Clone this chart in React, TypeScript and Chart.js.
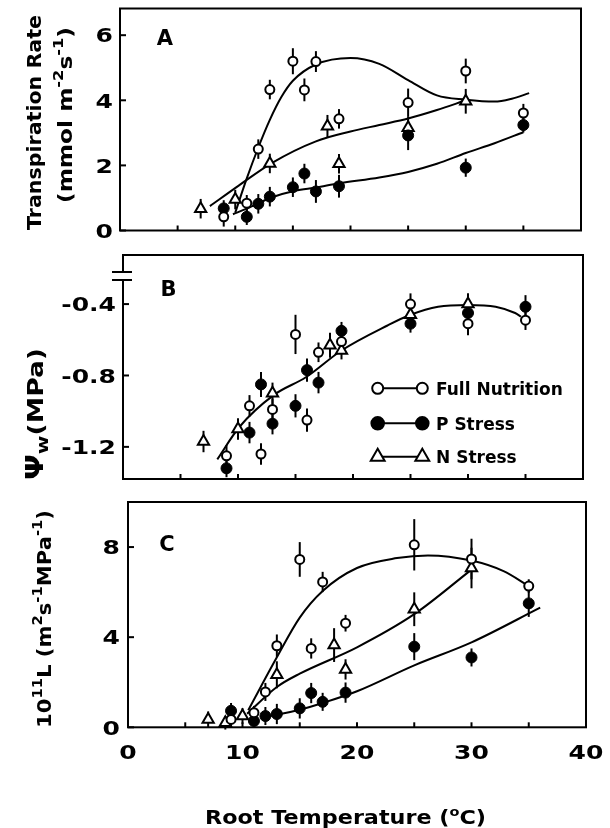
import React, { useEffect, useRef } from "react";
import { Chart, registerables } from "chart.js";

Chart.register(...registerables);

// ---------------- DATA ----------------
// shared x axis (root temperature, °C)
const xTickLabels = [0, 10, 20, 30, 40];
const xTickMarks = [5, 10, 15, 20, 25, 30, 35];

// Panel A – transpiration rate (mmol m-2 s-1)
const aYTicks = [0, 2, 4, 6];
const aFullT = [9, 11, 12, 13, 15, 16, 17, 19, 25, 30, 35];
const aFullY = [0.42, 0.84, 2.5, 4.33, 5.2, 4.32, 5.19, 3.43, 3.93, 4.9, 3.61];
const aFullE = [0.3, 0.25, 0.3, 0.3, 0.4, 0.35, 0.32, 0.3, 0.43, 0.38, 0.28];
const aPT = [9, 11, 12, 13, 15, 16, 17, 19, 25, 30, 35];
const aPY = [0.68, 0.42, 0.82, 1.04, 1.33, 1.75, 1.2, 1.36, 2.92, 1.93, 3.24];
const aPE = [0.25, 0.25, 0.3, 0.3, 0.3, 0.3, 0.35, 0.35, 0.45, 0.28, 0.23];
const aNT = [7, 10, 13, 18, 19, 25, 30];
const aNY = [0.67, 0.95, 2.06, 3.2, 2.05, 3.16, 3.97];
const aNE = [0.3, 0.3, 0.3, 0.35, 0.3, 0.35, 0.38];
const aFullCurveT = [10, 11, 12, 13, 14, 15, 17, 20, 22.5, 25, 27.5, 30, 32.5, 34, 35.5];
const aFullCurveY = [0.55, 1.6, 2.55, 3.4, 4.1, 4.6, 5.1, 5.3, 5.12, 4.62, 4.15, 4.02, 3.96, 4.05, 4.22];
const aNCurveT = [7.8, 10.3, 13.2, 17, 20, 22.5, 25, 27.5, 30];
const aNCurveY = [0.75, 1.38, 2.08, 2.74, 3.04, 3.24, 3.44, 3.7, 4.0];
const aPCurveT = [9.8, 11, 13.2, 15.2, 17, 19, 22.5, 25, 27.5, 30, 32.5, 35];
const aPCurveY = [0.5, 0.67, 1.02, 1.22, 1.32, 1.45, 1.63, 1.8, 2.05, 2.38, 2.68, 3.02];

// Panel B – leaf water potential (MPa)
const bYTicks = [-1.2, -0.8, -0.4];
const bFullT = [9, 11, 12, 13, 15, 16, 17, 19, 25, 30, 35];
const bFullY = [-1.25, -0.97, -1.24, -0.99, -0.57, -1.05, -0.67, -0.61, -0.4, -0.51, -0.49];
const bFullE = [0.06, 0.06, 0.06, 0.06, 0.11, 0.065, 0.055, 0.05, 0.06, 0.065, 0.055];
const bPT = [9, 11, 12, 13, 15, 16, 17, 19, 25, 30, 35];
const bPY = [-1.32, -1.12, -0.85, -1.07, -0.97, -0.77, -0.84, -0.55, -0.51, -0.45, -0.415];
const bPE = [0.05, 0.06, 0.07, 0.06, 0.065, 0.065, 0.06, 0.05, 0.05, 0.05, 0.065];
const bNT = [7, 10, 13, 18, 19, 25, 30];
const bNY = [-1.17, -1.1, -0.9, -0.63, -0.66, -0.46, -0.4];
const bNE = [0.06, 0.06, 0.06, 0.07, 0.05, 0.05, 0.06];
const bCurveT = [8.2, 10.1, 13.1, 15.9, 19, 23, 25, 27.4, 30, 32.4, 34.1, 34.6];
const bCurveY = [-1.27, -1.09, -0.91, -0.81, -0.66, -0.52, -0.46, -0.415, -0.405, -0.415, -0.45, -0.47];

// Panel C – root hydraulic conductance (10^11 L)
const cYTicks = [0, 4, 8];
const cFullT = [9, 11, 12, 13, 15, 16, 17, 19, 25, 30, 35];
const cFullY = [0.35, 0.65, 1.57, 3.62, 7.45, 3.5, 6.45, 4.62, 8.1, 7.47, 6.27];
const cFullE = [0.3, 0.3, 0.4, 0.5, 0.77, 0.45, 0.45, 0.37, 1.14, 0.9, 0.3];
const cPT = [9, 11, 12, 13, 15, 16, 17, 19, 25, 30, 35];
const cPY = [0.73, 0.28, 0.5, 0.59, 0.84, 1.52, 1.13, 1.54, 3.58, 3.1, 5.5];
const cPE = [0.35, 0.3, 0.4, 0.45, 0.45, 0.45, 0.4, 0.45, 0.6, 0.4, 0.6];
const cNT = [7, 8.5, 10, 13, 18, 19, 25, 30];
const cNY = [0.35, 0.2, 0.5, 2.33, 3.65, 2.57, 5.24, 7.07];
const cNE = [0.35, 0.3, 0.35, 0.6, 0.75, 0.45, 0.75, 0.9];
const cFullCurveT = [10.5, 13, 15, 17, 20, 23.5, 26.2, 30, 32.8, 35];
const cFullCurveY = [0.76, 3.11, 4.87, 6.05, 7.07, 7.51, 7.63, 7.4, 6.93, 6.27];
const cNCurveT = [10.4, 13, 15, 20, 25, 30];
const cNCurveY = [0.6, 1.79, 2.38, 3.55, 5.02, 7.0];
const cPCurveT = [12, 15, 17, 20, 25, 30, 36];
const cPCurveY = [0.45, 0.78, 1.08, 1.6, 2.75, 3.77, 5.31];

const legendLabels = ["Full Nutrition", "P Stress", "N Stress"];

// ---------------- DRAWING HELPERS ----------------
const FONT = '"DejaVu Sans", "Liberation Sans", Arial, sans-serif';
type Kind = "open" | "filled" | "tri";
type Seg = { t: string; s: number; dy?: number };
type Series = { xs: number[]; ys: number[]; es: number[]; kind: Kind };
type Curve = { xs: number[]; ys: number[] };

function drawText(
  ctx: CanvasRenderingContext2D,
  segs: Seg[],
  x: number,
  y: number,
  o: { rot?: boolean; align?: "left" | "center" | "right"; len?: number; sx?: number } = {}
) {
  ctx.save();
  ctx.translate(x, y);
  if (o.rot) ctx.rotate(-Math.PI / 2);
  ctx.textBaseline = "alphabetic";
  ctx.textAlign = "left";
  ctx.fillStyle = "#000";
  let w = 0;
  const ws = segs.map((g) => {
    ctx.font = `bold ${g.s}px ${FONT}`;
    const m = ctx.measureText(g.t).width;
    w += m;
    return m;
  });
  const k = o.len ? o.len / w : o.sx ?? 1;
  ctx.scale(k, 1);
  let cur = o.align === "left" ? 0 : o.align === "right" ? -w : -w / 2;
  segs.forEach((g, i) => {
    ctx.font = `bold ${g.s}px ${FONT}`;
    ctx.fillText(g.t, cur, -(g.dy ?? 0));
    cur += ws[i];
  });
  ctx.restore();
}

function drawMarker(ctx: CanvasRenderingContext2D, kind: Kind, x: number, y: number) {
  ctx.save();
  ctx.lineWidth = 2;
  ctx.strokeStyle = "#000";
  ctx.beginPath();
  if (kind === "tri") {
    const r = 8;
    ctx.moveTo(x, y - r);
    ctx.lineTo(x + r * 0.866, y + r * 0.5);
    ctx.lineTo(x - r * 0.866, y + r * 0.5);
    ctx.closePath();
    ctx.fillStyle = "#fff";
  } else {
    ctx.arc(x, y, kind === "open" ? 5.5 : 6.3, 0, Math.PI * 2);
    ctx.fillStyle = kind === "open" ? "#fff" : "#000";
  }
  ctx.fill();
  ctx.stroke();
  ctx.restore();
}

function pointStyle(kind: Kind) {
  if (kind === "open")
    return { pointStyle: "circle", pointRadius: 4.5, pointBackgroundColor: "#fff", pointBorderColor: "#000", pointBorderWidth: 2 };
  if (kind === "filled")
    return { pointStyle: "circle", pointRadius: 5.5, pointBackgroundColor: "#000", pointBorderColor: "#000", pointBorderWidth: 1 };
  return { pointStyle: "triangle", pointRadius: 6.5, pointBackgroundColor: "#fff", pointBorderColor: "#000", pointBorderWidth: 2 };
}

type Spec = {
  top: number;
  height: number;
  pad: { left: number; right: number; top: number; bottom: number };
  yMin: number;
  yMax: number;
  yTicks: number[];
  fmt: (v: number) => string;
  labelRight: number;
  series: Series[];
  curves: Curve[];
  extra: (ctx: CanvasRenderingContext2D, chart: any) => void;
};

function makePlugin(spec: Spec) {
  return {
    id: "panelDecor",
    beforeDatasetsDraw(chart: any) {
      const ctx = chart.ctx as CanvasRenderingContext2D;
      const sx = chart.scales.x;
      const sy = chart.scales.y;
      ctx.save();
      ctx.strokeStyle = "#000";
      ctx.lineWidth = 2;
      spec.series.forEach((s) =>
        s.xs.forEach((t, i) => {
          const px = sx.getPixelForValue(t);
          ctx.beginPath();
          ctx.moveTo(px, sy.getPixelForValue(s.ys[i] - s.es[i]));
          ctx.lineTo(px, sy.getPixelForValue(s.ys[i] + s.es[i]));
          ctx.stroke();
        })
      );
      ctx.restore();
    },
    afterDraw(chart: any) {
      const ctx = chart.ctx as CanvasRenderingContext2D;
      const a = chart.chartArea;
      const sx = chart.scales.x;
      const sy = chart.scales.y;
      ctx.save();
      ctx.strokeStyle = "#000";
      ctx.lineWidth = 2;
      ctx.strokeRect(a.left, a.top, a.right - a.left, a.bottom - a.top);
      xTickMarks.forEach((t) => {
        const px = sx.getPixelForValue(t);
        ctx.beginPath();
        ctx.moveTo(px, a.bottom);
        ctx.lineTo(px, a.bottom - 5);
        ctx.stroke();
      });
      spec.yTicks.forEach((v) => {
        const py = sy.getPixelForValue(v);
        ctx.beginPath();
        ctx.moveTo(a.left, py);
        ctx.lineTo(a.left + 6, py);
        ctx.stroke();
        drawText(ctx, [{ t: spec.fmt(v), s: 20 }], spec.labelRight, py + 7.3, { align: "right", sx: 1.25 });
      });
      ctx.restore();
      spec.extra(ctx, chart);
    },
  };
}

const specA: Spec = {
  top: 0,
  height: 245,
  pad: { left: 120, right: 29, top: 5, bottom: 14.5 },
  yMin: 0,
  yMax: 6.82,
  yTicks: aYTicks,
  fmt: (v) => String(v),
  labelRight: 113,
  series: [
    { xs: aFullT, ys: aFullY, es: aFullE, kind: "open" },
    { xs: aPT, ys: aPY, es: aPE, kind: "filled" },
    { xs: aNT, ys: aNY, es: aNE, kind: "tri" },
  ],
  curves: [
    { xs: aFullCurveT, ys: aFullCurveY },
    { xs: aNCurveT, ys: aNCurveY },
    { xs: aPCurveT, ys: aPCurveY },
  ],
  extra: (ctx) => {
    drawText(ctx, [{ t: "A", s: 21 }], 165, 44.7);
    drawText(ctx, [{ t: "Transpiration Rate", s: 20 }], 40.5, 122.5, { rot: true, len: 215 });
    drawText(
      ctx,
      [
        { t: "(mmol m", s: 20 },
        { t: "-2", s: 14, dy: 9 },
        { t: "s", s: 20 },
        { t: "-1", s: 14, dy: 9 },
        { t: ")", s: 20 },
      ],
      72,
      115,
      { rot: true, len: 176 }
    );
  },
};

const specB: Spec = {
  top: 245,
  height: 245,
  pad: { left: 123, right: 27, top: 10, bottom: 11 },
  yMin: -1.38,
  yMax: -0.125,
  yTicks: bYTicks,
  fmt: (v) => v.toFixed(1),
  labelRight: 116,
  series: [
    { xs: bFullT, ys: bFullY, es: bFullE, kind: "open" },
    { xs: bPT, ys: bPY, es: bPE, kind: "filled" },
    { xs: bNT, ys: bNY, es: bNE, kind: "tri" },
  ],
  curves: [{ xs: bCurveT, ys: bCurveY }],
  extra: (ctx, chart) => {
    const a = chart.chartArea;
    // axis break
    ctx.save();
    ctx.fillStyle = "#fff";
    ctx.fillRect(a.left - 3, a.top + 18, 6, 6);
    ctx.strokeStyle = "#000";
    ctx.lineWidth = 2;
    [a.top + 17, a.top + 25].forEach((y) => {
      ctx.beginPath();
      ctx.moveTo(a.left - 11, y);
      ctx.lineTo(a.left + 9, y);
      ctx.stroke();
    });
    ctx.restore();
    drawText(ctx, [{ t: "B", s: 21 }], 168.5, 50.6);
    drawText(
      ctx,
      [
        { t: "Ψ", s: 24 },
        { t: "w", s: 16, dy: -5 },
        { t: "(MPa)", s: 21 },
      ],
      43,
      169,
      { rot: true, len: 132 }
    );
    // legend
    const kinds: Kind[] = ["open", "filled", "tri"];
    const rows = [143.3, 178.3, 211.7];
    kinds.forEach((k, i) => {
      const y = rows[i];
      ctx.save();
      ctx.strokeStyle = "#000";
      ctx.lineWidth = 2;
      ctx.beginPath();
      ctx.moveTo(377.7, y);
      ctx.lineTo(422.3, y);
      ctx.stroke();
      ctx.restore();
      drawMarker(ctx, k, 377.7, y);
      drawMarker(ctx, k, 422.3, y);
      drawText(ctx, [{ t: legendLabels[i], s: 17 }], 436, y + 6.2, { align: "left" });
    });
  },
};

const specC: Spec = {
  top: 490,
  height: 338,
  pad: { left: 128, right: 24, top: 12, bottom: 100.7 },
  yMin: 0,
  yMax: 10,
  yTicks: cYTicks,
  fmt: (v) => String(v),
  labelRight: 120,
  series: [
    { xs: cFullT, ys: cFullY, es: cFullE, kind: "open" },
    { xs: cPT, ys: cPY, es: cPE, kind: "filled" },
    { xs: cNT, ys: cNY, es: cNE, kind: "tri" },
  ],
  curves: [
    { xs: cFullCurveT, ys: cFullCurveY },
    { xs: cNCurveT, ys: cNCurveY },
    { xs: cPCurveT, ys: cPCurveY },
  ],
  extra: (ctx, chart) => {
    const sx = chart.scales.x;
    drawText(ctx, [{ t: "C", s: 21 }], 167, 60.6);
    xTickLabels.forEach((v) => {
      drawText(ctx, [{ t: String(v), s: 20 }], sx.getPixelForValue(v), 269.3, { sx: 1.25 });
    });
    drawText(
      ctx,
      [
        { t: "Root Temperature (", s: 20 },
        { t: "o", s: 13, dy: 8 },
        { t: "C)", s: 20 },
      ],
      345.5,
      334,
      { len: 281 }
    );
    drawText(
      ctx,
      [
        { t: "10", s: 20 },
        { t: "11", s: 14, dy: 9 },
        { t: "L (m", s: 20 },
        { t: "2", s: 14, dy: 9 },
        { t: "s", s: 20 },
        { t: "-1", s: 14, dy: 9 },
        { t: "MPa", s: 20 },
        { t: "-1", s: 14, dy: 9 },
        { t: ")", s: 20 },
      ],
      51,
      129,
      { rot: true, len: 218 }
    );
  },
};

function Panel({ spec }: { spec: Spec }) {
  const ref = useRef<HTMLCanvasElement | null>(null);
  useEffect(() => {
    if (!ref.current) return;
    const chart = new Chart(ref.current, {
      type: "scatter",
      data: {
        datasets: [
          ...spec.curves.map((c) => ({
            data: c.xs.map((x, i) => ({ x, y: c.ys[i] })),
            showLine: true,
            pointRadius: 0,
            borderColor: "#000",
            borderWidth: 2,
            cubicInterpolationMode: "monotone" as const,
            order: 2,
            clip: false as any,
          })),
          ...spec.series.map((s) => ({
            data: s.xs.map((x, i) => ({ x, y: s.ys[i] })),
            showLine: false,
            order: 1,
            clip: false as any,
            ...(pointStyle(s.kind) as any),
          })),
        ],
      },
      options: {
        responsive: false,
        animation: false,
        events: [],
        layout: { padding: spec.pad },
        plugins: { legend: { display: false }, tooltip: { enabled: false } },
        scales: {
          x: { type: "linear", display: false, min: 0, max: 40 },
          y: { type: "linear", display: false, min: spec.yMin, max: spec.yMax },
        },
      },
      plugins: [makePlugin(spec)],
    } as any);
    return () => chart.destroy();
  }, [spec]);
  return (
    <canvas
      ref={ref}
      width={610}
      height={spec.height}
      style={{ position: "absolute", left: 0, top: spec.top, display: "block" }}
    />
  );
}

export default function App() {
  return (
    <div style={{ position: "absolute", left: 0, top: 0, width: 610, height: 828, background: "#fff" }}>
      <Panel spec={specA} />
      <Panel spec={specB} />
      <Panel spec={specC} />
    </div>
  );
}
